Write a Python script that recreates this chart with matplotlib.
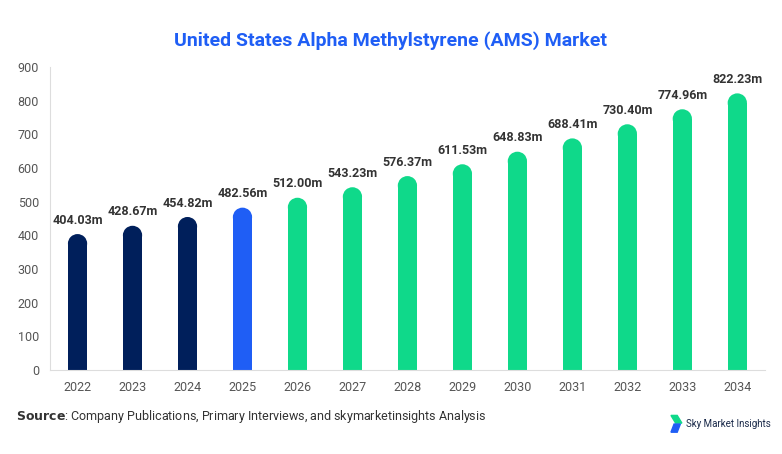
import matplotlib
matplotlib.use('Agg')
import matplotlib.pyplot as plt
from matplotlib.patches import Ellipse, Polygon

years = ['2022', '2023', '2024', '2025', '2026', '2027', '2028', '2029', '2030', '2031', '2032', '2033', '2034']
values = [404.03, 428.67, 454.82, 482.56, 512.00, 543.23, 576.37, 611.53, 648.83, 688.41, 730.40, 774.96, 822.23]
colors = ['#001f5b'] * 3 + ['#1f5ef5'] + ['#0fd98a'] * 9

plt.rcParams['font.family'] = ['Roboto', 'DejaVu Sans']
fig = plt.figure(figsize=(7.82, 4.54), dpi=100)
ax = fig.add_axes([0.064, 0.185, 0.914, 0.667])

bw = 0.35
ax.set_xlim(-0.5, len(years) - 0.5)
ax.set_ylim(0, 900)
# cap radius in data units (axis is ~303 px tall for 900)
r = 9.5 * 900 / 303.0
for i, (v, c) in enumerate(zip(values, colors)):
    ax.bar(i, v - r, bw, color=c, linewidth=0, zorder=2)
    ax.add_patch(Ellipse((i, v - r), bw, 2 * r, facecolor=c, linewidth=0, zorder=2))
    ax.text(i, v + 22, '%.2fm' % v, ha='center', va='bottom', fontsize=9,
            fontweight='bold', color='#333333')

ax.set_xticks(range(len(years)))
ax.set_xticklabels(years)
ax.set_yticks(range(0, 901, 100))
ax.tick_params(axis='both', length=0, labelsize=9, colors='#555555', pad=8)
for s in ['top', 'right']:
    ax.spines[s].set_visible(False)
ax.spines['left'].set_color('#dddddd')
ax.spines['bottom'].set_color('#dddddd')

fig.text(0.5, 0.9, 'United States Alpha Methylstyrene (AMS) Market', ha='center',
         fontsize=14, fontweight='bold', color='#1f5ef5')
fig.text(0.02, 0.075, r'$\bf{Source}$: Company Publications, Primary Interviews, and skymarketinsights Analysis',
         fontsize=9, color='#333333')
fig.patches.append(Polygon([[0.858, 0.085], [0.866, 0.085], [0.872, 0.068], [0.864, 0.068]],
                           closed=True, transform=fig.transFigure, color='#0fd98a'))
fig.patches.append(Polygon([[0.862, 0.066], [0.870, 0.066], [0.866, 0.048], [0.858, 0.048]],
                           closed=True, transform=fig.transFigure, color='#1f5ef5'))
fig.text(0.877, 0.066, 'Sky Market Insights', fontsize=7, color='#1a2a4a', va='center')

fig.savefig('out.png', dpi=100)
